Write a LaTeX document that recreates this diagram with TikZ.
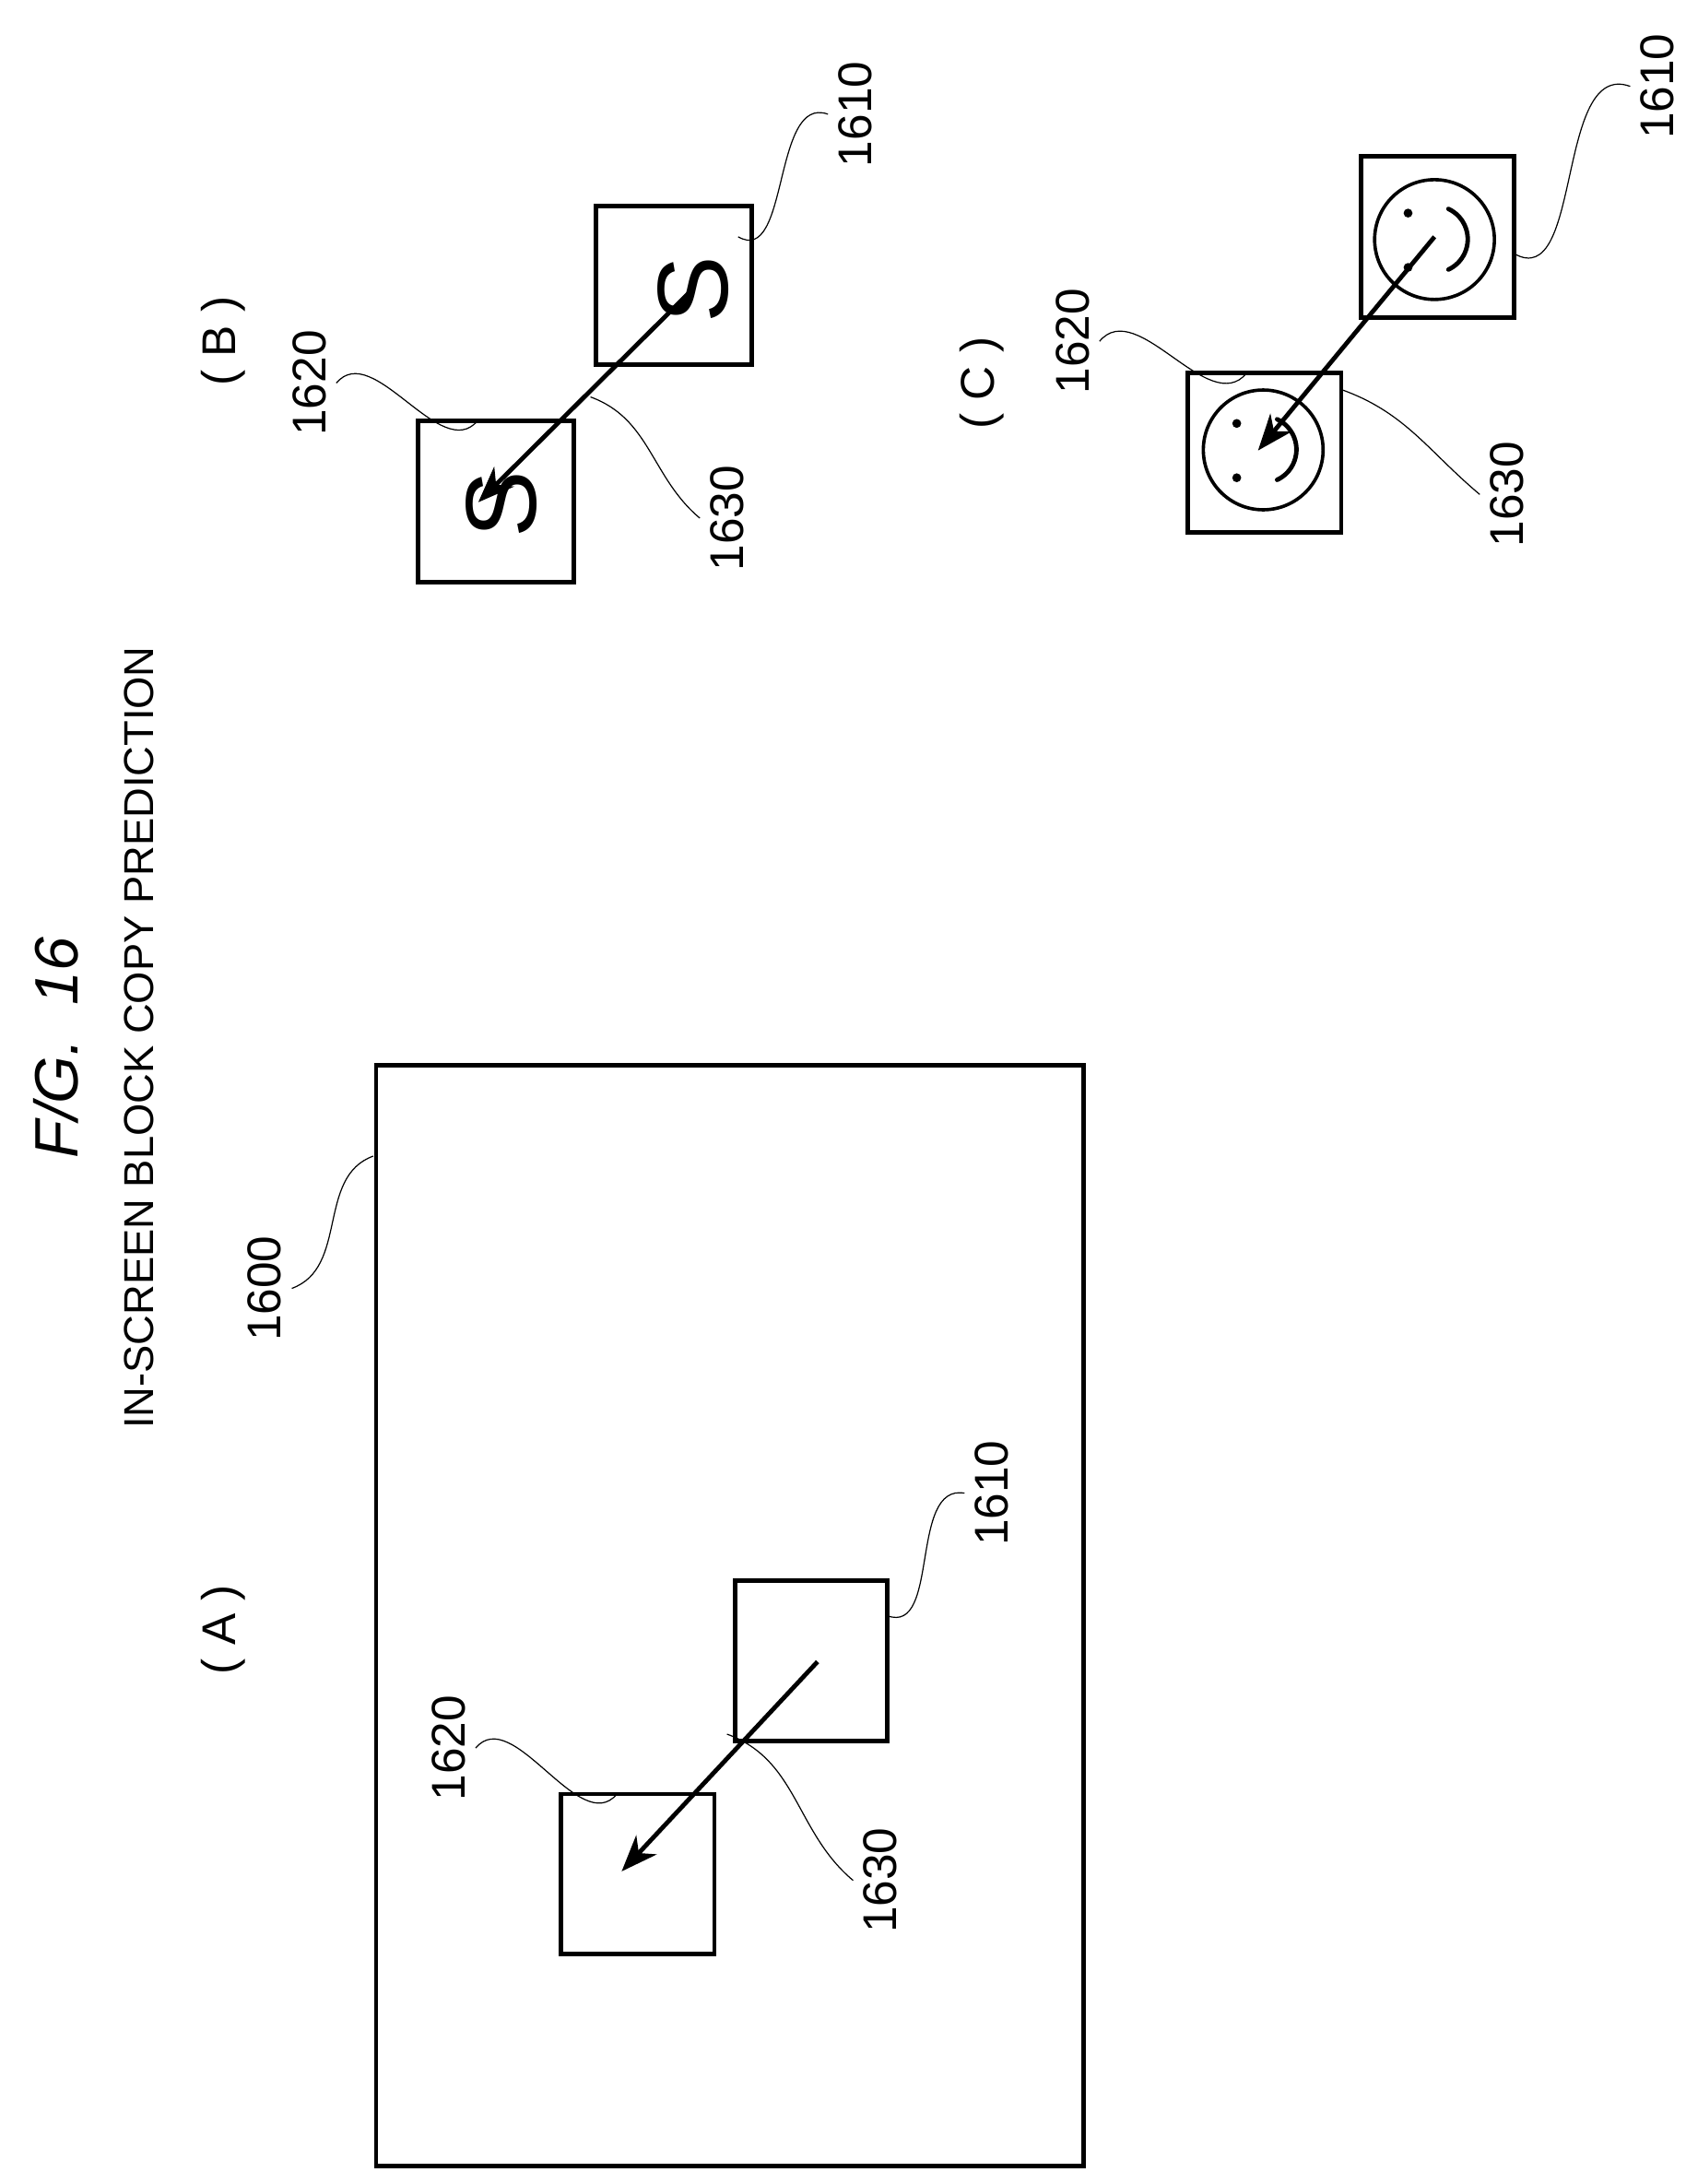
\documentclass[tikz,border=0pt]{standalone}
\usepackage{fontspec}
\setmainfont{Liberation Sans}
\usetikzlibrary{arrows.meta}

\begin{document}
\begin{tikzpicture}[x=0.5pt,y=-0.5pt,>={Stealth[length=13pt,width=10pt,inset=4pt]},thick,
  block/.style={draw,line width=1.6pt},
  mv/.style={->,line width=1.6pt,shorten >=1pt},
  leader/.style={thin},
  lbl/.style={rotate=90,font=\fontsize{17}{17}\selectfont},
  letter/.style={rotate=90,font=\fontsize{36}{36}\selectfont}]
  \useasboundingbox (0,0) rectangle (1210,1568);
  % heading
  \node[rotate=90,font=\fontsize{22}{22}\itshape] (fig) at (40,752) {F/G.\ \ 16};
  \node[rotate=90,font=\fontsize{15}{15}\selectfont] (title) at (100,745) {IN-SCREEN BLOCK COPY PREDICTION};

  % (A)
  \node[lbl] (la) at (160,1170) {(\ A\ )};
  \draw[block] (270,765) rectangle (778,1555);
  \draw[block] (403,1288) rectangle (513,1403);
  \draw[block] (528,1135) rectangle (637,1250);
  \coordinate (asrc) at (587,1193);
  \coordinate (adst) at (445,1345);
  \draw[mv] (asrc) -- (adst);
  \node[lbl] (a1600) at (190,925) {1600};
  \node[lbl] (a1620) at (322,1255) {1620};
  \node[lbl] (a1610) at (712,1072) {1610};
  \node[lbl] (a1630) at (632,1350) {1630};
  \coordinate (e1600) at (268,830);
  \coordinate (e1620) at (443,1288);
  \coordinate (e1610) at (637,1160);
  \coordinate (e1630) at (522,1245);
  \draw[leader] (e1600) to[out=200,in=20] (a1600.south);
  \draw[leader] (e1620) to[out=230,in=50] (a1620.south);
  \draw[leader] (e1610) to[out=-20,in=170] (a1610.north);
  \draw[leader] (e1630) to[out=-20,in=140] (a1630.north);

  % (B)
  \node[lbl] (lb) at (160,245) {(\ B\ )};
  \draw[block] (300,302) rectangle (412,418);
  \draw[block] (428,148) rectangle (540,262);
  \node[letter] (sb1) at (498,208) {S};
  \node[letter] (sb2) at (360,362) {S};
  \coordinate (bsrc) at (495,210);
  \coordinate (bdst) at (342,362);
  \draw[mv] (bsrc) -- (bdst);
  \node[lbl] (b1620) at (222,275) {1620};
  \node[lbl] (b1610) at (614,82) {1610};
  \node[lbl] (b1630) at (522,372) {1630};
  \coordinate (f1620) at (343,302);
  \coordinate (f1610) at (530,170);
  \coordinate (f1630) at (424,285);
  \draw[leader] (f1620) to[out=230,in=50] (b1620.south);
  \draw[leader] (f1610) to[out=-30,in=160] (b1610.north);
  \draw[leader] (f1630) to[out=-20,in=140] (b1630.north);

  % (C)
  \node[lbl] (lc) at (705,275) {(\ C\ )};
  \draw[block] (853,268) rectangle (963,382);
  \draw[block] (977,112) rectangle (1087,228);
  \foreach \cx/\cy/\nm in {1030/172/fa,907/323/fb}{
    \draw[line width=1.2pt] (\cx,\cy) circle (43);
    \fill (\cx-19,\cy-19) circle (3.2);
    \fill (\cx-19,\cy+20) circle (3.2);
    \draw[line width=1.6pt,line cap=round] (\cx+10,\cy-22) arc[start angle=-65,end angle=65,radius=24];
  }
  \coordinate (csrc) at (1030,170);
  \coordinate (cdst) at (902,325);
  \draw[mv] (csrc) -- (cdst);
  \node[lbl] (c1620) at (770,245) {1620};
  \node[lbl] (c1610) at (1190,62) {1610};
  \node[lbl] (c1630) at (1082,355) {1630};
  \coordinate (g1620) at (895,268);
  \coordinate (g1610) at (1087,182);
  \coordinate (g1630) at (964,280);
  \draw[leader] (g1620) to[out=230,in=50] (c1620.south);
  \draw[leader] (g1610) to[out=-30,in=160] (c1610.north);
  \draw[leader] (g1630) to[out=-20,in=140] (c1630.north);
\end{tikzpicture}
\end{document}
